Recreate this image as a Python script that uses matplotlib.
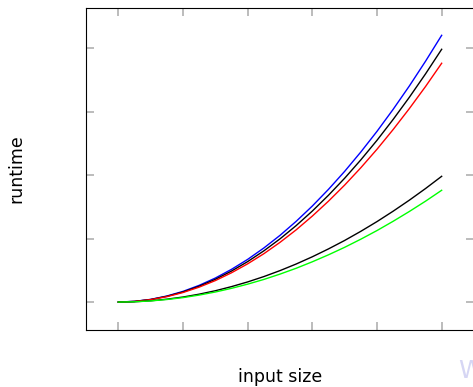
import matplotlib
matplotlib.use("Agg")
import matplotlib.pyplot as plt

# input sizes (tick positions 0..5, no tick labels shown)
x = [0, 0.25, 0.5, 0.75, 1, 1.25, 1.5, 1.75, 2, 2.25, 2.5,
     2.75, 3, 3.25, 3.5, 3.75, 4, 4.25, 4.5, 4.75, 5]

# runtimes (one tick step = 1 unit)
blue = [0, .011, .042, .095, .168, .263, .378, .515, .672, .851, 1.050,
        1.271, 1.512, 1.775, 2.058, 2.363, 2.688, 3.035, 3.402, 3.791, 4.200]
black_upper = [0, .010, .040, .090, .159, .249, .358, .488, .637, .806, .995,
               1.204, 1.433, 1.682, 1.950, 2.239, 2.547, 2.876, 3.224, 3.592, 3.980]
red = [0, .009, .038, .085, .150, .235, .338, .461, .602, .761, .940,
       1.137, 1.354, 1.589, 1.842, 2.115, 2.406, 2.717, 3.046, 3.393, 3.760]
black_lower = [0, .005, .020, .045, .079, .124, .178, .243, .317, .401, .495,
               .599, .713, .837, .970, 1.114, 1.267, 1.431, 1.604, 1.787, 1.980]
green = [0, .004, .018, .040, .070, .110, .158, .216, .282, .356, .440,
         .532, .634, .744, .862, .990, 1.126, 1.272, 1.426, 1.588, 1.760]

xticks = [0, 1, 2, 3, 4, 5]
yticks = [0, 1, 2, 3, 4]

fig = plt.figure(figsize=(4.73, 3.87), dpi=100)
ax = fig.add_axes([86 / 473, 57 / 387, 388 / 473, 322 / 387])

ax.plot(x, blue, color=(0, 0, 1), lw=1.0)
ax.plot(x, black_upper, color="black", lw=1.0)
ax.plot(x, red, color=(1, 0, 0), lw=1.0)
ax.plot(x, black_lower, color="black", lw=1.0)
ax.plot(x, green, color=(0, 1, 0), lw=1.0)

ax.set_xlim(-0.5, 5.5)
ax.set_ylim(-0.44, 4.63)
ax.set_xticks(xticks)
ax.set_yticks(yticks)
ax.set_xticklabels([])
ax.set_yticklabels([])
ax.tick_params(direction="in", length=5.5, width=1.2, color="#b0b0b0",
               top=True, right=True)
for s in ax.spines.values():
    s.set_linewidth(0.8)
    s.set_color("black")

ax.set_xlabel("input size", fontsize=12.5, labelpad=24)
ax.set_ylabel("runtime", fontsize=12.5, labelpad=40)

# faint watermark letter cut by the right edge, as in the reference
fig.text(458 / 473, 1 - 378 / 387, "W", fontsize=18, color="#d6d6f4",
         ha="left", va="baseline")

fig.savefig("out.png", dpi=100)
